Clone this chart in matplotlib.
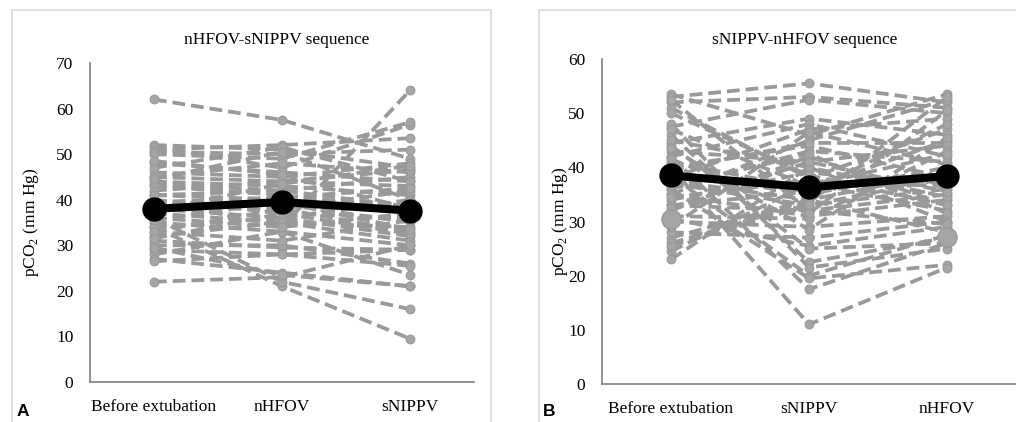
import matplotlib
matplotlib.use("Agg")
import matplotlib.pyplot as plt
from matplotlib.patches import Rectangle

plt.rcParams['font.family'] = ['Liberation Serif', 'DejaVu Serif']
plt.rcParams['mathtext.fontset'] = 'custom'
plt.rcParams['mathtext.rm'] = 'Liberation Serif'

# ---------------- data ----------------
cats_a = ["Before extubation", "nHFOV", "sNIPPV"]
cats_b = ["Before extubation", "sNIPPV", "nHFOV"]

title_a = "nHFOV-sNIPPV sequence"
title_b = "sNIPPV-nHFOV sequence"

yticks_a = [0, 10, 20, 30, 40, 50, 60, 70]
yticks_b = [0, 10, 20, 30, 40, 50, 60]

# individual patients, panel A: (before, nHFOV, sNIPPV)
before_a = [62, 52, 51.5, 51, 50.5, 50, 48, 46, 45, 44, 43.5, 43, 42, 41, 40, 39, 38.5, 38, 37, 36,
            35, 34, 33, 32, 31, 30, 29, 28, 27, 26.5, 22, 34, 36, 40, 45, 47, 41, 33, 29.5, 39.5,
            44.5, 37.5, 31.5, 48.5, 35.5]
nhfov_a = [57.5, 51, 47, 52, 50, 49, 46, 45, 48, 43, 42, 41, 44, 40, 37, 38, 39, 36, 35, 34,
           33, 36, 38, 35, 29.5, 30, 28, 33, 24, 28, 23, 21, 22, 34, 44, 51.5, 42, 31, 23.5, 40.5,
           50.5, 43.5, 37, 45.5, 39.5]
snippv_a = [49, 47, 56.5, 53.5, 51, 57, 44, 48, 46, 41, 45, 38, 43, 39, 36, 42, 35, 40, 34, 37,
            30, 32, 33, 31, 29, 26, 25.5, 23.5, 21, 29, 30, 9.5, 16, 64, 46.5, 44, 38.5, 35.5, 21, 42.5,
            40, 47.5, 32.5, 38, 33.5]

# individual patients, panel B: (before, sNIPPV, nHFOV)
before_b = [53.5, 53, 52, 51, 47.5, 44.5, 43, 42, 41, 40, 39, 38, 37, 36, 35, 34, 33, 32, 30.5, 30,
            27, 24.5, 23, 44, 46, 48, 38.5, 36, 42, 40, 35, 33, 31, 37.5, 45, 50, 39.5, 28, 26, 34.5,
            52.5, 29, 43.5, 36.5, 41.5, 32.5, 47, 25.5]
snippv_b = [46, 55.5, 53, 38, 52.5, 49, 41, 48, 36, 44, 35, 47, 33, 43, 31, 39, 32, 42, 25.5, 29,
            34, 37, 40, 25, 22.5, 21.5, 20, 19.5, 17.5, 11, 45, 35.5, 30.5, 34, 40, 38.5, 44.5, 27, 33.5, 37.5,
            32, 46.5, 28.5, 42.5, 31.5, 41, 36.5, 33]
nhfov_b = [53.5, 52, 51, 47, 50, 46, 44, 42, 45, 38, 40, 49, 36, 41, 34, 37, 35, 33, 29, 31,
           28, 32, 30, 26, 27, 25, 27.5, 22, 26, 21.5, 52.5, 48, 43, 39, 34.5, 33, 44.5, 30, 53, 36.5,
           29.5, 40.5, 45.5, 31.5, 50.5, 35.5, 42.5, 38]

# highlighted (larger) grey points in panel B: (category index, value)
big_idx_b = [0, 2]
big_val_b = [30.5, 27.2]

# group means
mean_a = [38.0, 39.5, 37.6]
mean_b = [38.5, 36.3, 38.4]

# ---------------- figure ----------------
W, H = 1016, 422
fig = plt.figure(figsize=(W / 100, H / 100), dpi=100)


def fx(px):
    return px / W


def fy(py):
    return 1 - py / H


# panel frames
fig.patches.append(Rectangle((fx(12), fy(440)), fx(491) - fx(12), fy(10) - fy(440),
                             transform=fig.transFigure, fill=False, ec='#d9d9d9', lw=1.2))
fig.patches.append(Rectangle((fx(539), fy(440)), fx(1100) - fx(539), fy(10) - fy(440),
                             transform=fig.transFigure, fill=False, ec='#d9d9d9', lw=1.2))

ax_a = fig.add_axes([fx(90), fy(382), fx(474) - fx(90), fy(63) - fy(382)])
ax_b = fig.add_axes([fx(602), fy(384), fx(1016) - fx(602), fy(59) - fy(384)])

grey = '#999999'
mfill = '#a6a6a6'


def draw(ax, cats, cols, mean, yticks, ymax, label_x):
    x = list(range(len(cats)))
    n = len(cols[0])
    for i in range(n):
        vals = [c[i] for c in cols]
        ax.plot(x, vals, color=grey, lw=2.7, dashes=(3.4, 1.6), dash_capstyle='butt',
                marker='o', ms=6.3, mfc=mfill, mec=grey, mew=0.8, zorder=2)
    ax.plot(x, mean, color='black', lw=5.8, marker='o', ms=16.5, mfc='black', mec='black',
            zorder=5, solid_capstyle='round')
    ax.set_xlim(-0.5, len(cats) - 0.5)
    ax.set_ylim(0, ymax)
    ax.set_yticks(yticks)
    ax.set_xticks(x)
    ax.set_xticklabels(cats)
    ax.tick_params(axis='both', length=0, labelsize=12.5, colors='black')
    ax.tick_params(axis='y', pad=12)
    ax.tick_params(axis='x', pad=12)
    for s in ['top', 'right']:
        ax.spines[s].set_visible(False)
    for s in ['left', 'bottom']:
        ax.spines[s].set_color('#7f7f7f')
        ax.spines[s].set_linewidth(1.2)
    ax.set_ylabel(r'pCO$_\mathregular{2}$ (mm Hg)', fontsize=12.5)
    ax.yaxis.set_label_coords(label_x, 0.5)
    ax.patch.set_alpha(0)
    return x


draw(ax_a, cats_a, [before_a, nhfov_a, snippv_a], mean_a, yticks_a, 70, -0.127)
draw(ax_b, cats_b, [before_b, snippv_b, nhfov_b], mean_b, yticks_b, 60, -0.078)
ax_b.scatter(big_idx_b, big_val_b, s=190, color=mfill, edgecolors=grey, zorder=3)

fig.text(fx(277), fy(40), title_a, ha='center', va='center', fontsize=12.5)
fig.text(fx(805), fy(40), title_b, ha='center', va='center', fontsize=12.5)

fig.text(fx(17), fy(411), "A", ha='left', va='center', fontsize=12.5, fontweight='bold',
         family=['Liberation Sans', 'DejaVu Sans'])
fig.text(fx(543), fy(411), "B", ha='left', va='center', fontsize=12.5, fontweight='bold',
         family=['Liberation Sans', 'DejaVu Sans'])

fig.savefig("out.png", dpi=100, facecolor='white')
